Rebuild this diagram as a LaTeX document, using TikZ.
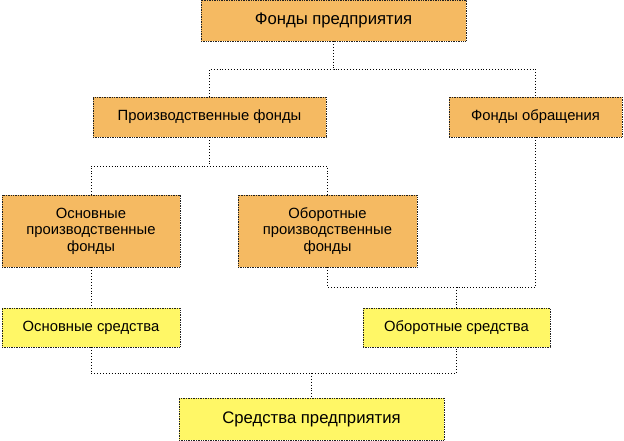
\documentclass[tikz,border=0pt]{standalone}
\usepackage{fontspec}
\setmainfont{Liberation Sans}
\usetikzlibrary{positioning}
\definecolor{fundFill}{HTML}{F5BA62}
\definecolor{assetFill}{HTML}{FFF766}
\definecolor{lineDark}{HTML}{202020}

\begin{document}
\begin{tikzpicture}[x=1pt,y=1pt,
  fund/.style={rectangle,draw=lineDark,densely dotted,line width=.7pt,fill=fundFill,align=center,inner sep=0pt,font=\fontsize{14.8}{16.5}\selectfont},
  asset/.style={rectangle,draw=lineDark,densely dotted,line width=.7pt,fill=assetFill,align=center,inner sep=0pt,font=\fontsize{14.8}{16.5}\selectfont},
  big/.style={font=\fontsize{16.7}{19}\selectfont},
  link/.style={draw=black,dotted,line width=.9pt}
]
\useasboundingbox (0,0) rectangle (624,-440);
% Three rows of funds on top, the means of the enterprise below.
\node[fund,big,minimum width=265,minimum height=41] (fund) at (333.5,-20.5) {Фонды предприятия};
\node[fund,minimum width=233,minimum height=40] (prod) at (209.5,-117) {Производственные фонды};
\node[fund,minimum width=173,minimum height=40] (circ) at (535.5,-117) {Фонды обращения};
\node[fund,minimum width=178,minimum height=72] (osnpf) at (91,-231) {Основные\\производственные\\фонды};
\node[fund,minimum width=179,minimum height=72] (obpf) at (327.5,-231) {Оборотные\\производственные\\фонды};
\node[asset,minimum width=178,minimum height=39] (osnsr) at (91,-327.5) {Основные средства};
\node[asset,minimum width=187,minimum height=39] (obsr) at (456.5,-327.5) {Оборотные средства};
\node[asset,big,minimum width=265,minimum height=42] (total) at (311.5,-419) {Средства предприятия};
\coordinate (j1) at (fund.south |- 0,-69);
\coordinate (j2) at (prod.south |- 0,-166);
\coordinate (j3) at (obsr.north |- 0,-287);
\coordinate (j4) at (total.north |- 0,-373);
\draw[link] (fund.south) -- (j1);
\draw[link] (prod.north) |- (j1) -| (circ.north);
\draw[link] (prod.south) -- (j2);
\draw[link] (osnpf.north) |- (j2) -| (obpf.north);
\draw[link] (osnpf.south) -- (osnsr.north);
\draw[link] (obpf.south) |- (j3) -| (circ.south);
\draw[link] (j3) -- (obsr.north);
\draw[link] (osnsr.south) |- (j4) -| (obsr.south);
\draw[link] (j4) -- (total.north);
\end{tikzpicture}
\end{document}
